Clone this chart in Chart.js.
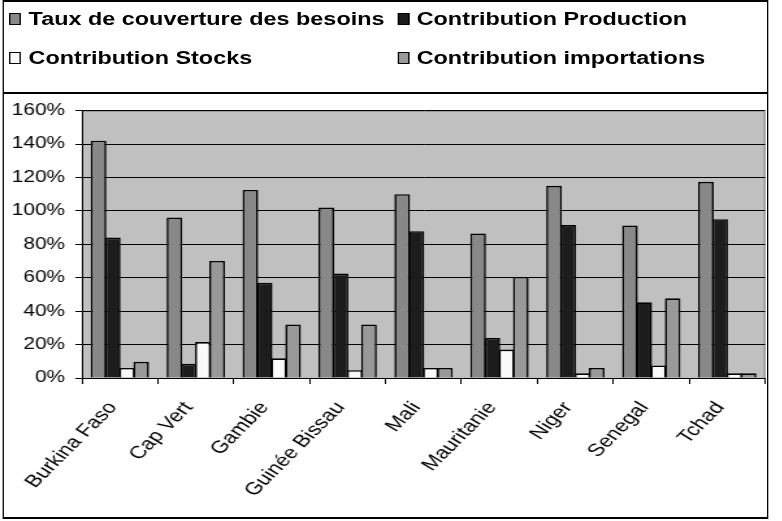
<!DOCTYPE html>
<html>
<head>
<meta charset="utf-8">
<script src="https://cdn.jsdelivr.net/npm/chart.js@4"></script>
<style>
  body { margin: 0; background: #fff; font-family: "Liberation Sans", Arial, sans-serif; overflow: hidden; }
  /* the original picture is stretched sideways, so the whole page is drawn narrow and widened */
  #page { position: absolute; left: 0; top: 0; width: 602px; height: 521px; transform: scaleX(1.3); transform-origin: 0 0; }
  #frame { position: absolute; left: 1.5px; top: 0px; width: 587px; height: 515px; border: 2px solid #000; border-left-width: 1.6px; border-right-width: 1.6px; }
  #legend { position: absolute; left: 0; top: 0; width: 587px; height: 90px; border-bottom: 2px solid #000; }
  .item { position: absolute; font-weight: bold; font-size: 18px; white-space: nowrap; line-height: 20px; }
  .item span.box { display: inline-block; width: 7px; height: 10px; border: 1px solid #000; margin-right: 6px; vertical-align: 0px; }
  #wrap { position: absolute; left: 3px; top: 93px; width: 587px; height: 424px; }
</style>
</head>
<body>
<div id="page">
  <div id="frame">
    <div id="legend"></div>
  </div>
  <div id="wrap"><canvas id="chart1"></canvas></div>
</div>
<script>
const countries = ['Burkina Faso', 'Cap Vert', 'Gambie', 'Guinée Bissau', 'Mali', 'Mauritanie', 'Niger', 'Senegal', 'Tchad'];
const tauxCouverture = [142, 96, 112.5, 102, 110, 86.5, 115, 91.3, 117.4];
const contribProduction = [84, 8.5, 57, 62.5, 87.8, 24, 91.5, 45.3, 95];
const contribStocks = [6, 21.5, 11.8, 4.7, 6, 17, 2.8, 7.5, 2.8];
const contribImportations = [9.7, 70, 32, 32, 6, 60.5, 6, 47.7, 2.8];
const yTicks = [0, 20, 40, 60, 80, 100, 120, 140, 160];

// gray plot background like the original spreadsheet chart
const plotBg = {
    id: 'plotBg',
    beforeDraw(chart) {
        const a = chart.chartArea;
        const c = chart.ctx;
        c.save();
        c.fillStyle = '#c0c0c0';
        c.fillRect(a.left, a.top, a.right - a.left, a.bottom - a.top);
        c.strokeStyle = '#808080';
        c.lineWidth = 1;
        c.beginPath();
        c.moveTo(a.left, a.top + 0.5);
        c.lineTo(a.right - 0.5, a.top + 0.5);
        c.lineTo(a.right - 0.5, a.bottom);
        c.stroke();
        c.restore();
    }
};

var ctx1 = document.getElementById('chart1').getContext('2d');
var chart1 = new Chart(ctx1, {
    type: 'bar',
    data: {
        labels: countries,
        datasets: [
            { label: 'Taux de couverture des besoins', data: tauxCouverture, backgroundColor: '#888888' },
            { label: 'Contribution Production', data: contribProduction, backgroundColor: '#1c1c1c' },
            { label: 'Contribution Stocks', data: contribStocks, backgroundColor: '#fafafa' },
            { label: 'Contribution importations', data: contribImportations, backgroundColor: '#999999' }
        ].map(d => Object.assign(d, {
            borderColor: '#000', borderWidth: 1.6, borderSkipped: 'bottom',
            categoryPercentage: 0.75, barPercentage: 1.1
        }))
    },
    options: {
        responsive: true,
        maintainAspectRatio: false,
        animation: false,
        layout: { padding: { top: 14, right: 1, left: 0, bottom: 0 } },
        scales: {
            x: {
                offset: true,
                grid: { offset: true, drawOnChartArea: false, color: '#000', tickLength: 6 },
                border: { color: '#000', width: 1 },
                // 52 degrees here looks like 45 once the page is widened
                ticks: { minRotation: 52, maxRotation: 52, color: '#000', padding: 14, labelOffset: -5.5,
                         font: { family: 'Liberation Sans, Arial', size: 17.5 } },
                afterFit: function(scale) { scale.height = 139; }
            },
            y: {
                min: 0, max: 160,
                afterBuildTicks: function(scale) { scale.ticks = yTicks.map(v => ({ value: v })); },
                grid: { color: '#000', tickLength: 5 },
                border: { color: '#000', width: 1 },
                ticks: { color: '#000', padding: 8, callback: v => v + '%',
                         font: { family: 'Liberation Sans, Arial', size: 16 } },
                afterFit: function(scale) { scale.width = 60; }
            }
        },
        plugins: {
            legend: { display: false },
            tooltip: { enabled: false }
        }
    },
    plugins: [plotBg]
});

// legend in two columns, built from the datasets
const legendEl = document.getElementById('legend');
const pos = [[4.5, 7], [303, 7], [4.5, 46], [303, 46]];
chart1.data.datasets.forEach((ds, i) => {
    const it = document.createElement('div');
    it.className = 'item';
    it.style.left = pos[i][0] + 'px';
    it.style.top = pos[i][1] + 'px';
    it.innerHTML = '<span class="box" style="background:' + ds.backgroundColor + '"></span>' + ds.label;
    legendEl.appendChild(it);
});
</script>
</body>
</html>
